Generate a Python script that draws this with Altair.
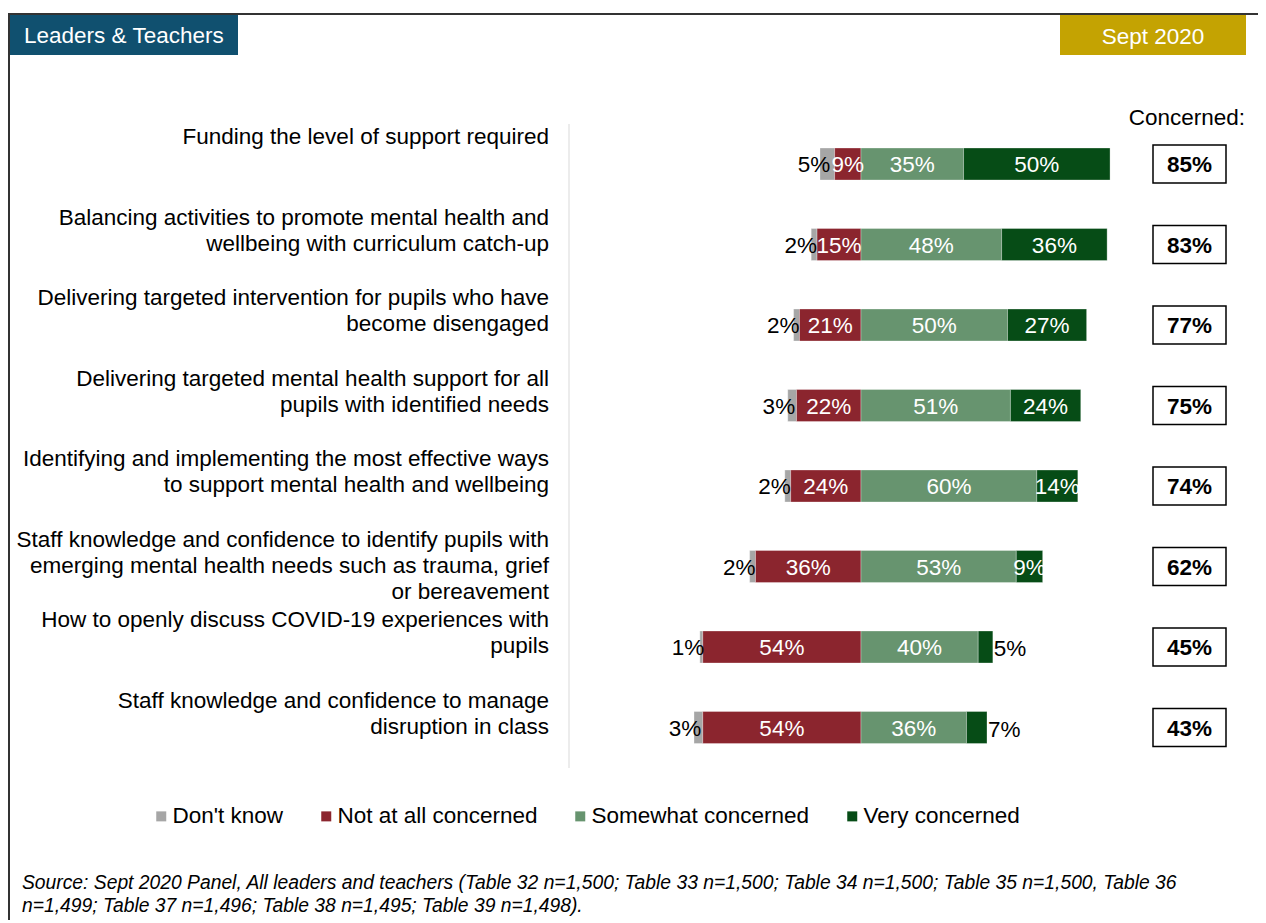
import altair as alt
import pandas as pd

# ---------------- data ----------------
items = [
    "Funding the level of support required",
    "Balancing activities to promote mental health and\nwellbeing with curriculum catch-up",
    "Delivering targeted intervention for pupils who have\nbecome disengaged",
    "Delivering targeted mental health support for all\npupils with identified needs",
    "Identifying and implementing the most effective ways\nto support mental health and wellbeing",
    "Staff knowledge and confidence to identify pupils with\nemerging mental health needs such as trauma, grief\nor bereavement",
    "How to openly discuss COVID-19 experiences with\npupils",
    "Staff knowledge and confidence to manage\ndisruption in class",
]
dont_know = [5, 2, 2, 3, 2, 2, 1, 3]
not_at_all = [9, 15, 21, 22, 24, 36, 54, 54]
somewhat = [35, 48, 50, 51, 60, 53, 40, 36]
very = [50, 36, 27, 24, 14, 9, 5, 7]
concerned = [85, 83, 77, 75, 74, 62, 45, 43]

categories = ["Don't know", "Not at all concerned", "Somewhat concerned", "Very concerned"]
colors = ["#A6A6A6", "#8B252E", "#67946F", "#064C16"]

source_lines = [
    "Source: Sept 2020 Panel, All leaders and teachers (Table 32 n=1,500; Table 33 n=1,500; Table 34 n=1,500; Table 35 n=1,500, Table 36",
    "n=1,499; Table 37 n=1,496; Table 38 n=1,495; Table 39 n=1,498).",
]

# ---------------- tables ----------------
rows = []
for i, it in enumerate(items):
    key = it.replace("\n", " ")
    dk, na, sw, vc = dont_know[i], not_at_all[i], somewhat[i], very[i]
    segs = [
        (categories[0], -(na + dk), -na, dk),
        (categories[1], -na, 0, na),
        (categories[2], 0, sw, sw),
        (categories[3], sw, sw + vc, vc),
    ]
    for cat, a, b, v in segs:
        rows.append(dict(item=key, cat=cat, x0=a, x1=b, mid=(a + b) / 2, v=v,
                         lab=f"{v}%"))
seg = pd.DataFrame(rows)

inner = seg[(seg.cat.isin(categories[1:3])) | ((seg.cat == categories[3]) & (seg.v >= 8))]
dk_lab = seg[seg.cat == categories[0]]
small_very = seg[(seg.cat == categories[3]) & (seg.v < 8)]

labels_df = pd.DataFrame(dict(item=[it.replace("\n", " ") for it in items], text=items,
                              conc=[f"{c}%" for c in concerned]))
order = list(labels_df["item"])

one = pd.DataFrame({"a": [0]})
FONT = "Liberation Sans"
FS = 22.5

W, H = 1250, 912
xs = alt.Scale(domain=[-853 / 2.93, (W - 853) / 2.93], nice=False, zero=False)
ys = alt.Scale(domain=order, range=[115.75, 115.75 + 8 * 80.5], paddingInner=0.6025, paddingOuter=0.30125)
X = lambda f: alt.X(f"{f}:Q", scale=xs, axis=None)
Y = alt.Y("item:N", scale=ys, axis=None, sort=order)

bars = alt.Chart(seg).mark_bar(stroke="#ffffff", strokeWidth=0.6, strokeOpacity=0.5).encode(
    x=X("x0"), x2="x1", y=Y,
    color=alt.Color("cat:N", scale=alt.Scale(domain=categories, range=colors),
                    legend=alt.Legend(orient="none", legendX=142, legendY=797, direction="horizontal",
                                      title=None, symbolType="square", symbolSize=100,
                                      labelFontSize=FS, labelFont=FONT, labelColor="black",
                                      columnPadding=31, labelOffset=0, padding=0, columns=4,
                                      symbolStrokeWidth=0, symbolOpacity=1, labelLimit=400)),
)

t_inner = alt.Chart(inner).mark_text(color="white", fontSize=FS, font=FONT, baseline="middle", dy=1).encode(
    x=X("mid"), y=Y, text="lab:N")
t_dk = alt.Chart(dk_lab).mark_text(color="black", fontSize=FS, font=FONT, baseline="middle", align="right", dx=3, dy=1).encode(
    x=X("mid"), y=Y, text="lab:N")
t_sv = alt.Chart(small_very).mark_text(color="black", fontSize=FS, font=FONT, baseline="middle", align="left", dx=1, dy=2).encode(
    x=X("x1"), y=Y, text="lab:N")

cat_text = alt.Chart(labels_df).mark_text(color="black", fontSize=FS, font=FONT, baseline="top", align="right",
                                          lineBreak="\n", lineHeight=26, dy=-38).encode(
    x=alt.value(541), y=Y, text="text:N")

conc_box = alt.Chart(labels_df).mark_bar(size=38, fill="white", stroke="black", strokeWidth=1.5).encode(
    x=alt.value(1145), x2=alt.value(1218), y=Y)
conc_text = alt.Chart(labels_df).mark_text(color="black", fontSize=FS, font=FONT, fontWeight="bold", baseline="middle", dy=1).encode(
    x=alt.value(1181.5), y=Y, text="conc:N")

conc_head = alt.Chart(one).mark_text(text="Concerned:", fontSize=FS, font=FONT, align="right", baseline="middle", color="black").encode(
    x=alt.value(1237), y=alt.value(110))

vline = alt.Chart(one).mark_rule(color="#D9D9D9", strokeWidth=1).encode(
    x=alt.value(561), y=alt.value(116), y2=alt.value(760))

frame_top = alt.Chart(one).mark_rect(color="#333333").encode(
    x=alt.value(0), x2=alt.value(W), y=alt.value(5), y2=alt.value(7))
frame_left = alt.Chart(one).mark_rect(color="#333333").encode(
    x=alt.value(0), x2=alt.value(2), y=alt.value(5), y2=alt.value(H))

hdr_l = alt.Chart(one).mark_rect(color="#10506F").encode(
    x=alt.value(2), x2=alt.value(230), y=alt.value(7), y2=alt.value(47))
hdr_l_t = alt.Chart(one).mark_text(text="Leaders & Teachers", color="white", fontSize=FS, font=FONT, align="left", baseline="middle").encode(
    x=alt.value(16), y=alt.value(28))
hdr_r = alt.Chart(one).mark_rect(color="#C4A302").encode(
    x=alt.value(1052), x2=alt.value(1238), y=alt.value(7), y2=alt.value(47))
hdr_r_t = alt.Chart(one).mark_text(text="Sept 2020", color="white", fontSize=FS, font=FONT, align="center", baseline="middle").encode(
    x=alt.value(1145), y=alt.value(29))

src = alt.Chart(pd.DataFrame({"t": source_lines, "yy": [875, 898]})).mark_text(
    fontSize=19.3, font=FONT, fontStyle="italic", align="left", baseline="middle", color="black").encode(
    x=alt.value(14), y=alt.Y("yy:Q", scale=alt.Scale(domain=[0, H], range=[0, H]), axis=None), text="t:N")

chart = alt.layer(
    frame_top, frame_left, hdr_l, hdr_l_t, hdr_r, hdr_r_t, vline, conc_head,
    bars, t_inner, t_dk, t_sv, cat_text, conc_box, conc_text, src,
).resolve_scale(y="independent").properties(
    width=W, height=H, autosize=alt.AutoSizeParams(type="none"), padding=0
).configure_view(stroke=None)

chart.save("out.html", embed_options={"renderer": "svg", "actions": False})
